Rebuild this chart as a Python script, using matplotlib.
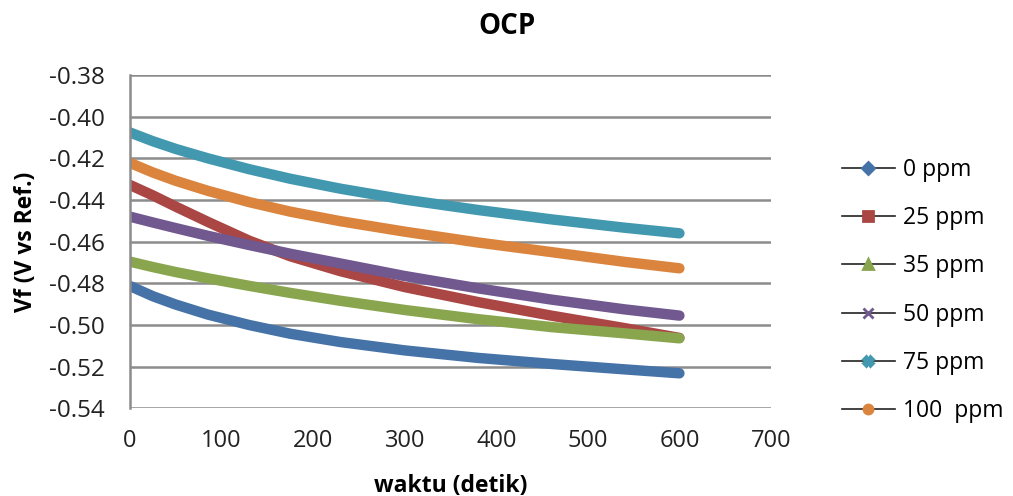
import matplotlib.pyplot as plt
from matplotlib.lines import Line2D

plt.rcParams['font.family'] = ['Open Sans', 'DejaVu Sans']

t = [0, 25, 50, 85, 130, 175, 230, 300, 380, 460, 540, 600]

v_0 = [-0.4813, -0.4862, -0.4902, -0.4950, -0.5000, -0.5042, -0.5082, -0.5122, -0.5158, -0.5187, -0.5213, -0.5232]
v_25 = [-0.4328, -0.4378, -0.4432, -0.4505, -0.4595, -0.4670, -0.4742, -0.4818, -0.4890, -0.4955, -0.5015, -0.5062]
v_35 = [-0.4696, -0.4722, -0.4746, -0.4776, -0.4812, -0.4846, -0.4884, -0.4928, -0.4972, -0.5010, -0.5040, -0.5064]
v_50 = [-0.4480, -0.4508, -0.4535, -0.4572, -0.4616, -0.4658, -0.4705, -0.4765, -0.4824, -0.4878, -0.4925, -0.4955]
v_75 = [-0.4076, -0.4118, -0.4155, -0.4200, -0.4252, -0.4298, -0.4346, -0.4398, -0.4448, -0.4493, -0.4533, -0.4560]
v_100 = [-0.4222, -0.4268, -0.4308, -0.4356, -0.4410, -0.4456, -0.4502, -0.4552, -0.4604, -0.4650, -0.4697, -0.4728]

labels = ['0 ppm', '25 ppm', '35 ppm', '50 ppm', '75 ppm', '100  ppm']
series = [v_0, v_25, v_35, v_50, v_75, v_100]
colors = ['#4572A7', '#AA4643', '#89A54E', '#71588F', '#4198AF', '#DB843D']
markers = ['D', 's', '^', 'x', 'X', 'o']

fig = plt.figure(figsize=(10.13, 4.96), dpi=100)
ax = fig.add_axes([0.1283, 0.1768, 0.6328, 0.672])

for y, c in zip(series, colors):
    ax.plot(t, y, color=c, lw=7.5, solid_capstyle='round', solid_joinstyle='round')

ax.set_xlim(0, 700)
ax.set_ylim(-0.54, -0.38)
ax.set_xticks(range(0, 701, 100))
ax.set_yticks([-0.54 + 0.02 * i for i in range(9)])
ax.set_yticklabels(['%.2f' % (-0.54 + 0.02 * i) for i in range(9)])
ax.tick_params(axis='y', length=0, labelsize=17.5, colors='#222222', pad=18)
ax.tick_params(axis='x', length=0, labelsize=17, colors='#222222', pad=15)

ax.yaxis.grid(True, color='#8c8c8c', lw=1.8)
ax.set_axisbelow(True)
for s in ['top', 'right', 'bottom']:
    ax.spines[s].set_visible(False)
ax.spines['left'].set_color('#8c8c8c')
ax.spines['left'].set_linewidth(1.8)

fig.suptitle('OCP', x=0.5, y=0.975, fontsize=20, fontweight='bold', va='top')
ax.set_xlabel('waktu (detik)', fontsize=16.5, fontweight='bold', labelpad=15)
ax.set_ylabel('Vf (V vs Ref.)', fontsize=16.5, fontweight='bold', labelpad=8)

handles = [Line2D([], [], color='#222222', lw=1.2, marker=m, markersize=6.5,
                  markerfacecolor=c, markeredgecolor=c, markeredgewidth=2)
           for m, c in zip(markers, colors)]
fig.legend(handles, labels, loc='upper left', bbox_to_anchor=(0.831, 0.682),
           frameon=False, fontsize=16.5, handlelength=2.3, handletextpad=0.35,
           labelspacing=1.06, borderaxespad=0, borderpad=0)

fig.savefig('out.png', dpi=100)
